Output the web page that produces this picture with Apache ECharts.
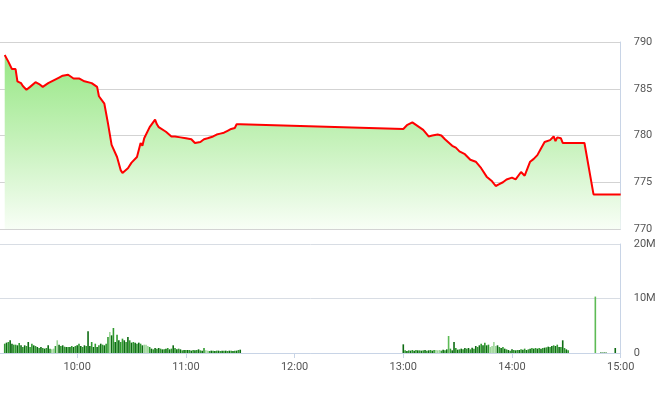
<!DOCTYPE html>
<html>
<head>
<meta charset="utf-8">
<script src="https://cdn.jsdelivr.net/npm/echarts@6/dist/echarts.min.js"></script>
<style>
html,body{margin:0;padding:0;background:#fff;}
#chart{width:660px;height:412px;}
</style>
</head>
<body>
<div id="chart"></div>
<script>
// ---- data ----
const priceTimes = ['9:20','9:22','9:24','9:25','9:26','9:27','9:29','9:30','9:32','9:34','9:37','9:39','9:41','9:44','9:47','9:48','9:50','9:52','9:55','9:56','9:58','10:01','10:04','10:08','10:11','10:12','10:15','10:16','10:17','10:19','10:22','10:24','10:25','10:26','10:28','10:30','10:33','10:35','10:36','10:37','10:40','10:43','10:44','10:45','10:46','10:49','10:52','10:54','10:57','11:00','11:03','11:05','11:06','11:08','11:10','11:12','11:15','11:17','11:19','11:21','11:23','11:25','11:27','11:28','11:30','13:00','13:01','13:02','13:05','13:08','13:11','13:12','13:14','13:16','13:19','13:20','13:21','13:23','13:27','13:29','13:31','13:34','13:35','13:37','13:38','13:40','13:43','13:46','13:49','13:51','13:53','13:55','13:57','13:58','14:00','14:02','14:03','14:05','14:07','14:10','14:12','14:14','14:16','14:17','14:18','14:21','14:23','14:24','14:25','14:27','14:28','14:40','14:45','15:00'];
const priceValues = [788.6,787.9,787.1,787.3,787.1,785.8,785.6,785.3,784.9,785.2,785.7,785.5,785.2,785.6,785.9,785.8,786.2,786.4,786.5,786.3,786.1,786.1,785.8,785.6,785.2,784.2,783.4,783.3,781.3,779.0,777.7,776.3,776.0,776.0,776.5,777.1,777.7,779.2,778.9,779.7,780.9,781.7,781.2,780.9,781.1,780.4,779.9,779.9,779.8,779.7,779.6,779.2,779.4,779.3,779.6,779.7,779.9,780.1,780.2,780.3,780.5,780.7,780.8,781.2,781.2,780.7,780.9,781.1,781.4,781.0,780.6,780.8,779.9,780.0,780.1,780.2,780.0,779.6,778.9,778.7,778.3,778.0,777.8,777.4,777.5,777.2,776.5,775.6,775.1,774.6,774.8,775.0,775.3,775.5,775.5,775.3,775.2,776.1,775.7,777.2,777.5,777.9,778.6,778.7,779.3,779.5,779.9,779.4,779.8,779.7,779.2,779.2,773.7,773.7];

// volume (millions of shares), one bar per minute from the start time
const volMorningStart = '9:20';
const volMorning = [1.71,1.90,2.02,2.33,1.71,1.53,1.53,1.41,1.84,1.41,1.10,1.41,1.29,2.02,1.10,1.71,1.41,1.29,1.10,0.92,1.10,0.92,0.80,0.92,1.41,0.80,0.67,0.80,1.29,2.33,1.53,1.29,1.41,1.16,1.10,1.10,1.10,1.29,1.10,1.29,1.41,1.71,1.29,1.10,1.41,1.29,3.98,1.29,2.02,1.10,1.71,1.10,1.41,1.71,1.53,1.41,1.71,2.94,3.86,3.24,4.59,2.02,3.37,2.33,2.02,2.63,2.33,2.02,2.94,2.33,1.90,2.02,1.90,1.71,1.90,1.71,1.41,1.53,1.53,1.29,1.10,0.80,0.67,0.92,0.80,0.92,0.80,0.67,0.67,0.80,0.92,0.67,0.80,1.41,0.92,0.67,0.80,0.67,0.49,0.55,0.55,0.55,0.55,0.43,0.55,0.49,0.55,0.67,0.49,0.43,0.92,0.49,0.43,0.37,0.43,0.43,0.37,0.43,0.43,0.37,0.43,0.43,0.43,0.37,0.43,0.43,0.37,0.43,0.43,0.55,0.61];
const volMorningKind = 'gdgddggdgdgdgdggdgdgdgdgdgllgldgdgdgdgdgdgdgdgddgdgdgdgdggldgdgdggdgdgdgdgdgdlllgdgdgdgdgdgdgdgdgdgdgdgdgdgdgdgllgdgdgdgdgdgdgdgdgdgdgdgd';
const volAfternoonStart = '13:00';
const volAfternoon = [1.59,0.49,0.37,0.49,0.43,0.55,0.43,0.55,0.49,0.49,0.43,0.49,0.55,0.43,0.49,0.55,0.43,0.55,0.55,0.49,0.55,0.43,0.61,0.49,0.67,3.12,0.80,0.49,2.02,0.92,0.61,0.67,0.80,0.67,0.92,0.80,0.92,0.67,0.98,0.80,1.29,1.10,1.41,1.71,1.41,1.90,1.41,1.53,1.10,1.29,2.02,1.29,1.41,1.10,0.92,1.10,0.80,0.67,0.55,0.43,0.67,0.55,0.49,0.55,0.55,0.67,0.61,0.80,0.55,0.67,0.80,0.92,0.80,0.92,0.80,0.92,0.80,0.92,0.98,1.04,1.16,1.10,1.29,1.41,1.29,1.53,1.10,1.10,2.33,0.92,0.67,0.49];
const volAfternoonKind = 'dgdgdgdgdgdgdgdgdglllgdgdmgddgdgdgdgdgdgdgdgdgdglllldgdgdgdgdgdgdgdgdgdgdgdgdgdgdgdgdgdgdgd';
const volCloseTimes = ['14:46','14:49','14:50','14:51','14:52','14:57'];
const volClose = [10.35,0.10,0.08,0.10,0.08,0.92];
const volCloseKind = 'mddddd';

const xTickLabels = ['10:00','11:00','12:00','13:00','14:00','15:00'];
const xRange = {min:'9:17.4', max:'15:00'};
const priceTicks = {min:770, max:790, step:5};
const volTicks = {min:0, max:20, step:10};

// ---- helpers ----
function toMin(t){const p=t.split(':');return (+p[0])*60+(+p[1]);}
function fmt(v){const h=Math.floor(v/60),m=Math.round(v%60);return h+':'+(m<10?'0':'')+m;}
const kindColor = {d:'#0d6b12', g:'#2f9a2f', l:'#9ed69a', m:'#5dbb55'};

const priceData = priceTimes.map((t,i)=>[toMin(t), priceValues[i]]);
const volData = [];
function addVol(start, vals, kinds){
  const s = toMin(start);
  vals.forEach((v,i)=>volData.push({value:[s+i, v], itemStyle:{color:kindColor[kinds[i]]||kindColor.g}}));
}
addVol(volMorningStart, volMorning, volMorningKind);
addVol(volAfternoonStart, volAfternoon, volAfternoonKind);
volCloseTimes.forEach((t,i)=>volData.push({value:[toMin(t), volClose[i]], itemStyle:{color:kindColor[volCloseKind[i]]}}));

const chart = echarts.init(document.getElementById('chart'), null, {renderer:'canvas'});
const xMin = toMin(xRange.min), xMax = toMin(xRange.max);
const tickVals = xTickLabels.map(toMin);
const axisBlue = '#c8d4e6';
const labelStyle = {color:'#555', fontSize:11, fontFamily:'Roboto, Arial, sans-serif'};

chart.setOption({
  animation:false,
  grid:[
    {left:0, right:39.3, top:42, height:187},
    {left:0, right:39.3, top:244, height:109}
  ],
  xAxis:[
    {type:'value', gridIndex:0, min:xMin, max:xMax,
     axisLine:{show:false}, axisTick:{show:false}, axisLabel:{show:false}, splitLine:{show:false}},
    {type:'value', gridIndex:1, min:xMin, max:xMax,
     axisLine:{show:true, lineStyle:{color:axisBlue, width:1}},
     axisTick:{show:true, length:5, lineStyle:{color:axisBlue}, customValues:tickVals},
     axisLabel:Object.assign({margin:9, formatter:fmt, customValues:tickVals, showMinLabel:true, showMaxLabel:true}, labelStyle),
     splitLine:{show:false}}
  ],
  yAxis:[
    {type:'value', gridIndex:0, position:'right', min:priceTicks.min, max:priceTicks.max, interval:priceTicks.step,
     axisLine:{show:true, lineStyle:{color:axisBlue}}, axisTick:{show:false},
     axisLabel:Object.assign({margin:13}, labelStyle),
     splitLine:{show:true, lineStyle:{color:'#d3d3d3', width:1.2}}},
    {type:'value', gridIndex:1, position:'right', min:volTicks.min, max:volTicks.max, interval:volTicks.step,
     axisLine:{show:true, lineStyle:{color:axisBlue}}, axisTick:{show:false},
     axisLabel:Object.assign({margin:13, formatter:v=>v===0?'0':v+'M'}, labelStyle),
     splitLine:{show:true, lineStyle:{color:'#d8dde4', width:1}}}
  ],
  series:[
    {type:'line', xAxisIndex:0, yAxisIndex:0, data:priceData, showSymbol:false, symbol:'none',
     lineStyle:{color:'#ff0000', width:2},
     areaStyle:{origin:'start', opacity:1, color:new echarts.graphic.LinearGradient(0,0,0,1,[
       {offset:0, color:'#97e785'}, {offset:0.5, color:'#c6f2bb'}, {offset:1, color:'#f8fef6'}])},
     z:3},
    {type:'bar', xAxisIndex:1, yAxisIndex:1, data:volData, barWidth:1.6, barGap:'0%'}
  ]
});
</script>
</body>
</html>
